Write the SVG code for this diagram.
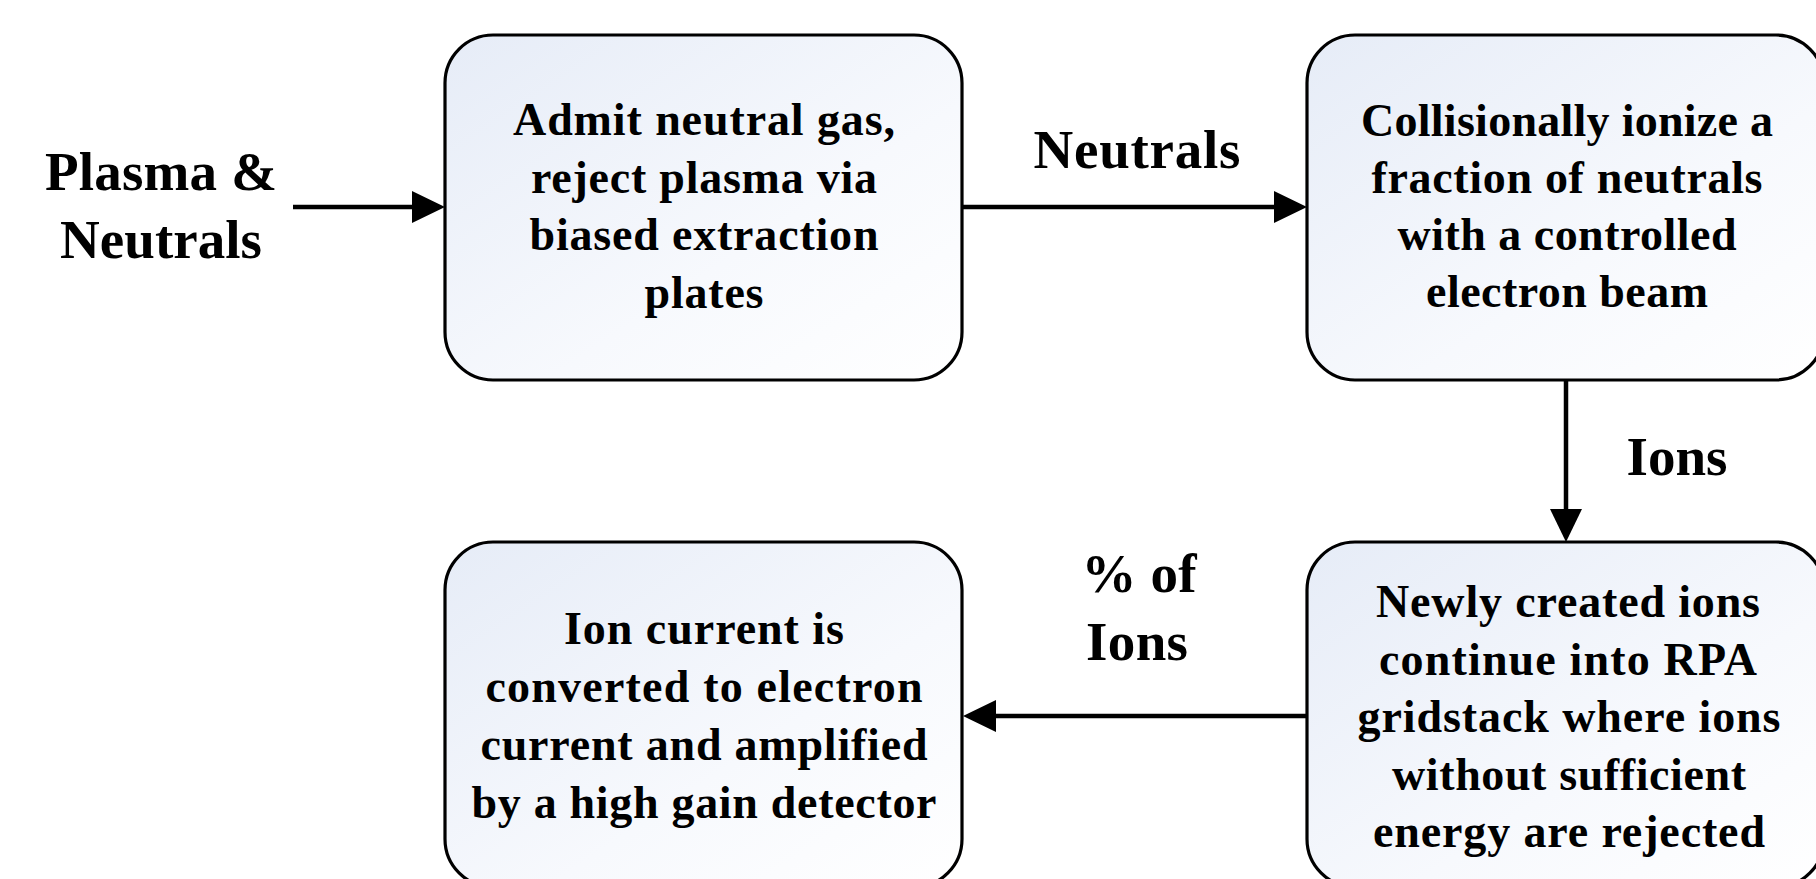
<svg xmlns="http://www.w3.org/2000/svg" width="1816" height="879" viewBox="0 0 1816 879">
  <style>
    .box { fill: url(#boxfill); stroke: #000; stroke-width: 3.2; }
    .bt { font-family: "Liberation Serif", "Times New Roman", serif; font-weight: bold; font-size: 46px; text-anchor: middle; fill: #000; }
    .lbl { font-family: "Liberation Serif", "Times New Roman", serif; font-weight: bold; font-size: 55px; text-anchor: middle; fill: #000; }
    .conn { stroke: #000; stroke-width: 4.5; fill: none; marker-end: url(#arrow); }
  </style>
  <defs>
    <linearGradient id="boxfill" x1="0" y1="0" x2="1" y2="1">
      <stop offset="0" stop-color="#e6ecf7"/>
      <stop offset="0.6" stop-color="#f7f9fd"/>
      <stop offset="1" stop-color="#ffffff"/>
    </linearGradient>
    <marker id="arrow" markerUnits="userSpaceOnUse" markerWidth="34" markerHeight="32" refX="23" refY="16" orient="auto" overflow="visible">
      <path d="M0,0 L33,16 L0,32 Z" fill="#000"/>
    </marker>
  </defs>

  <rect x="0" y="0" width="1816" height="879" fill="#ffffff"/>

  <g id="connectors">
    <line class="conn" x1="293" y1="207" x2="435" y2="207"/>
    <line class="conn" x1="963" y1="207" x2="1297" y2="207"/>
    <line class="conn" x1="1566" y1="381" x2="1566" y2="532"/>
    <line class="conn" x1="1307" y1="716" x2="973" y2="716"/>
  </g>

  <g id="label-plasma">
    <text class="lbl" x="161" y="190" textLength="232" lengthAdjust="spacing">Plasma &amp;</text>
    <text class="lbl" x="161" y="258" textLength="202" lengthAdjust="spacing">Neutrals</text>
  </g>
  <g id="label-neutrals">
    <text class="lbl" x="1137" y="168" textLength="207" lengthAdjust="spacing">Neutrals</text>
  </g>
  <g id="label-ions">
    <text class="lbl" x="1677" y="475" textLength="101" lengthAdjust="spacing">Ions</text>
  </g>
  <g id="label-percent">
    <text class="lbl" x="1139" y="592" textLength="115" lengthAdjust="spacing">% of</text>
    <text class="lbl" x="1137" y="660" textLength="102" lengthAdjust="spacing">Ions</text>
  </g>

  <g id="node-admit">
    <rect class="box" x="445" y="35" width="517" height="345" rx="48" ry="48"/>
    <text class="bt" x="704" y="135" textLength="382" lengthAdjust="spacing">Admit neutral gas,</text>
    <text class="bt" x="704" y="193" textLength="346" lengthAdjust="spacing">reject plasma via</text>
    <text class="bt" x="704" y="250" textLength="349" lengthAdjust="spacing">biased extraction</text>
    <text class="bt" x="704" y="308" textLength="119" lengthAdjust="spacing">plates</text>
  </g>

  <g id="node-ionize">
    <rect class="box" x="1307" y="35" width="517" height="345" rx="48" ry="48"/>
    <text class="bt" x="1567" y="136" textLength="412" lengthAdjust="spacing">Collisionally ionize a</text>
    <text class="bt" x="1567" y="193" textLength="391" lengthAdjust="spacing">fraction of neutrals</text>
    <text class="bt" x="1567" y="250" textLength="339" lengthAdjust="spacing">with a controlled</text>
    <text class="bt" x="1567" y="307" textLength="282" lengthAdjust="spacing">electron beam</text>
  </g>

  <g id="node-rpa">
    <rect class="box" x="1307" y="542" width="517" height="345" rx="48" ry="48"/>
    <text class="bt" x="1568" y="617" textLength="384" lengthAdjust="spacing">Newly created ions</text>
    <text class="bt" x="1568" y="675" textLength="378" lengthAdjust="spacing">continue into RPA</text>
    <text class="bt" x="1569" y="732" textLength="423" lengthAdjust="spacing">gridstack where ions</text>
    <text class="bt" x="1569" y="790" textLength="354" lengthAdjust="spacing">without sufficient</text>
    <text class="bt" x="1569" y="847" textLength="392" lengthAdjust="spacing">energy are rejected</text>
  </g>

  <g id="node-detector">
    <rect class="box" x="445" y="542" width="517" height="345" rx="48" ry="48"/>
    <text class="bt" x="704" y="644" textLength="280" lengthAdjust="spacing">Ion current is</text>
    <text class="bt" x="704" y="702" textLength="437" lengthAdjust="spacing">converted to electron</text>
    <text class="bt" x="704" y="760" textLength="447" lengthAdjust="spacing">current and amplified</text>
    <text class="bt" x="704" y="818" textLength="465" lengthAdjust="spacing">by a high gain detector</text>
  </g>
</svg>
